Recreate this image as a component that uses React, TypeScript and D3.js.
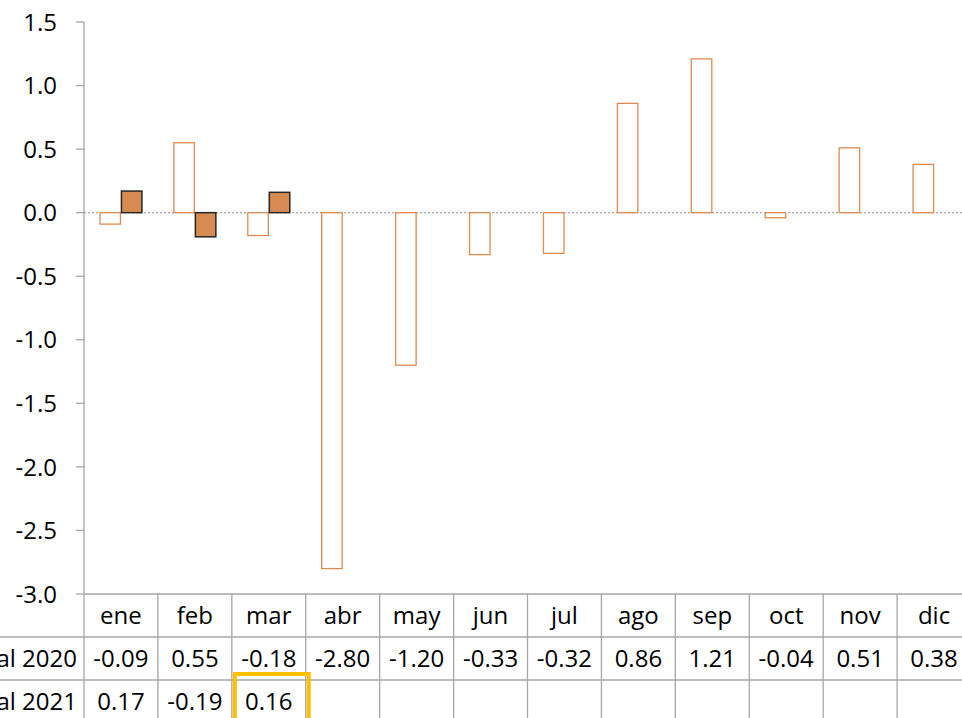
import React from "react";
import * as d3 from "d3";

const months = ["ene", "feb", "mar", "abr", "may", "jun", "jul", "ago", "sep", "oct", "nov", "dic"];
const seriesNames = ["Total 2020", "Total 2021"];
const values2020 = [-0.09, 0.55, -0.18, -2.8, -1.2, -0.33, -0.32, 0.86, 1.21, -0.04, 0.51, 0.38];
const values2021 = [0.17, -0.19, 0.16];
const yTicks = [1.5, 1.0, 0.5, 0.0, -0.5, -1.0, -1.5, -2.0, -2.5, -3.0];

const W = 962;
const H = 718;
const left = 84;
const right = 971;
const top = 22;
const bottom = 594;
const rowH = 43;
const font = "'Open Sans', Lato, sans-serif";
const fs = 24;

export default function App() {
  const y = d3.scaleLinear().domain([-3, 1.5]).range([bottom, top]);
  const x = d3.scaleBand<string>().domain(months).range([left, right]);
  const inner = d3.scaleBand<string>().domain(seriesNames).range([0, x.bandwidth()]).paddingInner(0).paddingOuter(0.72);
  const bw = inner.bandwidth();
  const grid = "#A6A6A6";
  const rows = [values2020, values2021];
  return (
    <div style={{ position: "absolute", left: 0, top: 0, width: W, height: H, overflow: "hidden", background: "#fff" }}>
      <svg width={W} height={H} style={{ display: "block" }} fontFamily={font}>
        {/* y axis */}
        <line x1={left} x2={left} y1={top} y2={H} stroke={grid} strokeWidth={1.3} />
        {yTicks.map((t) => (
          <g key={t}>
            <line x1={left - 8} x2={left} y1={y(t)} y2={y(t)} stroke={grid} strokeWidth={1.3} />
            <text x={57} y={y(t)} dy="0.36em" textAnchor="end" fontSize={fs} fill="#000">
              {t.toFixed(1)}
            </text>
          </g>
        ))}
        {/* zero line */}
        <line x1={left} x2={W} y1={y(0)} y2={y(0)} stroke="#A6A6A6" strokeWidth={1.2} strokeDasharray="2 2" />
        {/* bars 2020 */}
        {values2020.map((v, i) => {
          const x0 = (x(months[i]) as number) + (inner(seriesNames[0]) as number);
          return (
            <rect
              key={"a" + i}
              x={x0 + 0.5}
              y={Math.min(y(v), y(0))}
              width={bw - 1}
              height={Math.abs(y(v) - y(0))}
              fill="#fff"
              stroke="#E08A50"
              strokeWidth={1.3}
            />
          );
        })}
        {values2021.map((v, i) => {
          const x0 = (x(months[i]) as number) + (inner(seriesNames[1]) as number);
          return (
            <rect
              key={"b" + i}
              x={x0 + 0.5}
              y={Math.min(y(v), y(0))}
              width={bw - 1}
              height={Math.abs(y(v) - y(0))}
              fill="#D78B52"
              stroke="#262626"
              strokeWidth={1.5}
            />
          );
        })}
        {/* data table */}
        <line x1={left} x2={W} y1={bottom} y2={bottom} stroke={grid} strokeWidth={1.3} />
        {[1, 2].map((r) => (
          <line key={r} x1={0} x2={W} y1={bottom + r * rowH} y2={bottom + r * rowH} stroke={grid} strokeWidth={1.3} />
        ))}
        {months.map((m, i) => (
          <line
            key={"v" + i}
            x1={(x(m) as number) + x.bandwidth()}
            x2={(x(m) as number) + x.bandwidth()}
            y1={bottom}
            y2={H}
            stroke={grid}
            strokeWidth={1.3}
          />
        ))}
        {months.map((m) => (
          <text key={m} x={(x(m) as number) + x.bandwidth() / 2} y={bottom + rowH / 2} dy="0.36em" textAnchor="middle" fontSize={fs}>
            {m}
          </text>
        ))}
        {rows.map((vals, r) => (
          <g key={"r" + r}>
            <text x={77} y={bottom + rowH * (r + 1) + rowH / 2} dy="0.36em" textAnchor="end" fontSize={fs}>
              {seriesNames[r]}
            </text>
            {vals.map((v, i) => (
              <text
                key={i}
                x={(x(months[i]) as number) + x.bandwidth() / 2}
                y={bottom + rowH * (r + 1) + rowH / 2}
                dy="0.36em"
                textAnchor="middle"
                fontSize={fs}
              >
                {v.toFixed(2)}
              </text>
            ))}
          </g>
        ))}
        {/* highlight */}
        <rect
          x={(x("mar") as number) + 3}
          y={bottom + 2 * rowH - 6}
          width={x.bandwidth() - 0}
          height={60}
          fill="none"
          stroke="#FFC000"
          strokeWidth={4}
        />
      </svg>
    </div>
  );
}
